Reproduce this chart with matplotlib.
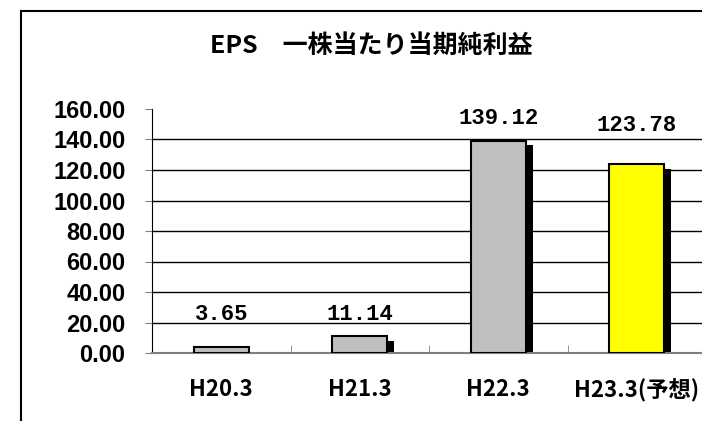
import matplotlib
matplotlib.use("Agg")
import matplotlib.pyplot as plt
from matplotlib.lines import Line2D
import numpy as np

plt.rcParams['font.family'] = ['Noto Sans CJK JP', 'DejaVu Sans']

# data
categories = ["H20.3", "H21.3", "H22.3", "H23.3(予想)"]
eps = [3.65, 11.14, 139.12, 123.78]
value_labels = ["3.65", "11.14", "139.12", "123.78"]
bar_colors = ["#c0c0c0", "#c0c0c0", "#c0c0c0", "#ffff00"]
yticks = [0, 20, 40, 60, 80, 100, 120, 140, 160]
title = "EPS　一株当たり当期純利益"

# layout: label heights (data units) as placed in the original
label_y = [25, 25, 154, 149]

fig = plt.figure(figsize=(7.02, 4.21), dpi=100)
ax = fig.add_axes([152 / 702, 1 - 353 / 421, 554 / 702, (353 - 109) / 421])

x = np.arange(len(categories))
w = 0.4
sx = 7 / 138.5   # shadow offset, right
sy = 3.0         # shadow offset, down (data units)

# drop shadows
ax.bar(x + sx, [max(v - sy, 0) for v in eps], width=w, color="black",
       edgecolor="none", zorder=2)
ax.bar(x, eps, width=w, color=bar_colors, edgecolor="black", linewidth=1.5,
       zorder=3)

for xi, lbl, ly in zip(x, value_labels, label_y):
    ax.text(xi, ly, lbl, ha="center", va="center", fontsize=16,
            family="Liberation Mono", fontweight="bold", zorder=4)

ax.set_xlim(-0.5, len(categories) - 0.5)
ax.set_ylim(0, 160)
ax.set_yticks(yticks)
ax.set_yticklabels([f"{t:.2f}" for t in yticks], family="Liberation Sans",
                   fontweight="bold", fontsize=17)
for t in yticks[1:-1]:
    ax.axhline(t, color="black", lw=1, zorder=1)

ax.set_xticks(x)
ax.set_xticklabels(categories, fontsize=16, fontweight="bold")
ax.set_xticks(np.arange(len(categories) + 1) - 0.5, minor=True)
ax.tick_params(axis="x", which="major", length=0, pad=18)
ax.tick_params(axis="x", which="minor", direction="in", length=6,
               color="#808080")
ax.tick_params(axis="y", direction="out", length=5, color="#808080",
               pad=14)

for s in ("top", "right"):
    ax.spines[s].set_visible(False)
ax.spines["left"].set_color("black")
ax.spines["bottom"].set_color("#808080")
ax.spines["bottom"].set_linewidth(1.5)

fig.text(371 / 702, 1 - 46 / 421, title, ha="center", va="center",
         fontsize=18, fontweight="bold")

# chart frame (runs off the right and bottom of the image)
fx, fy = 21 / 702, 1 - 11 / 421
fig.add_artist(Line2D([fx, fx], [0, fy], color="black", lw=1.5,
                      transform=fig.transFigure))
fig.add_artist(Line2D([fx, 1], [fy, fy], color="black", lw=1.5,
                      transform=fig.transFigure))

fig.savefig("out.png", dpi=100)
